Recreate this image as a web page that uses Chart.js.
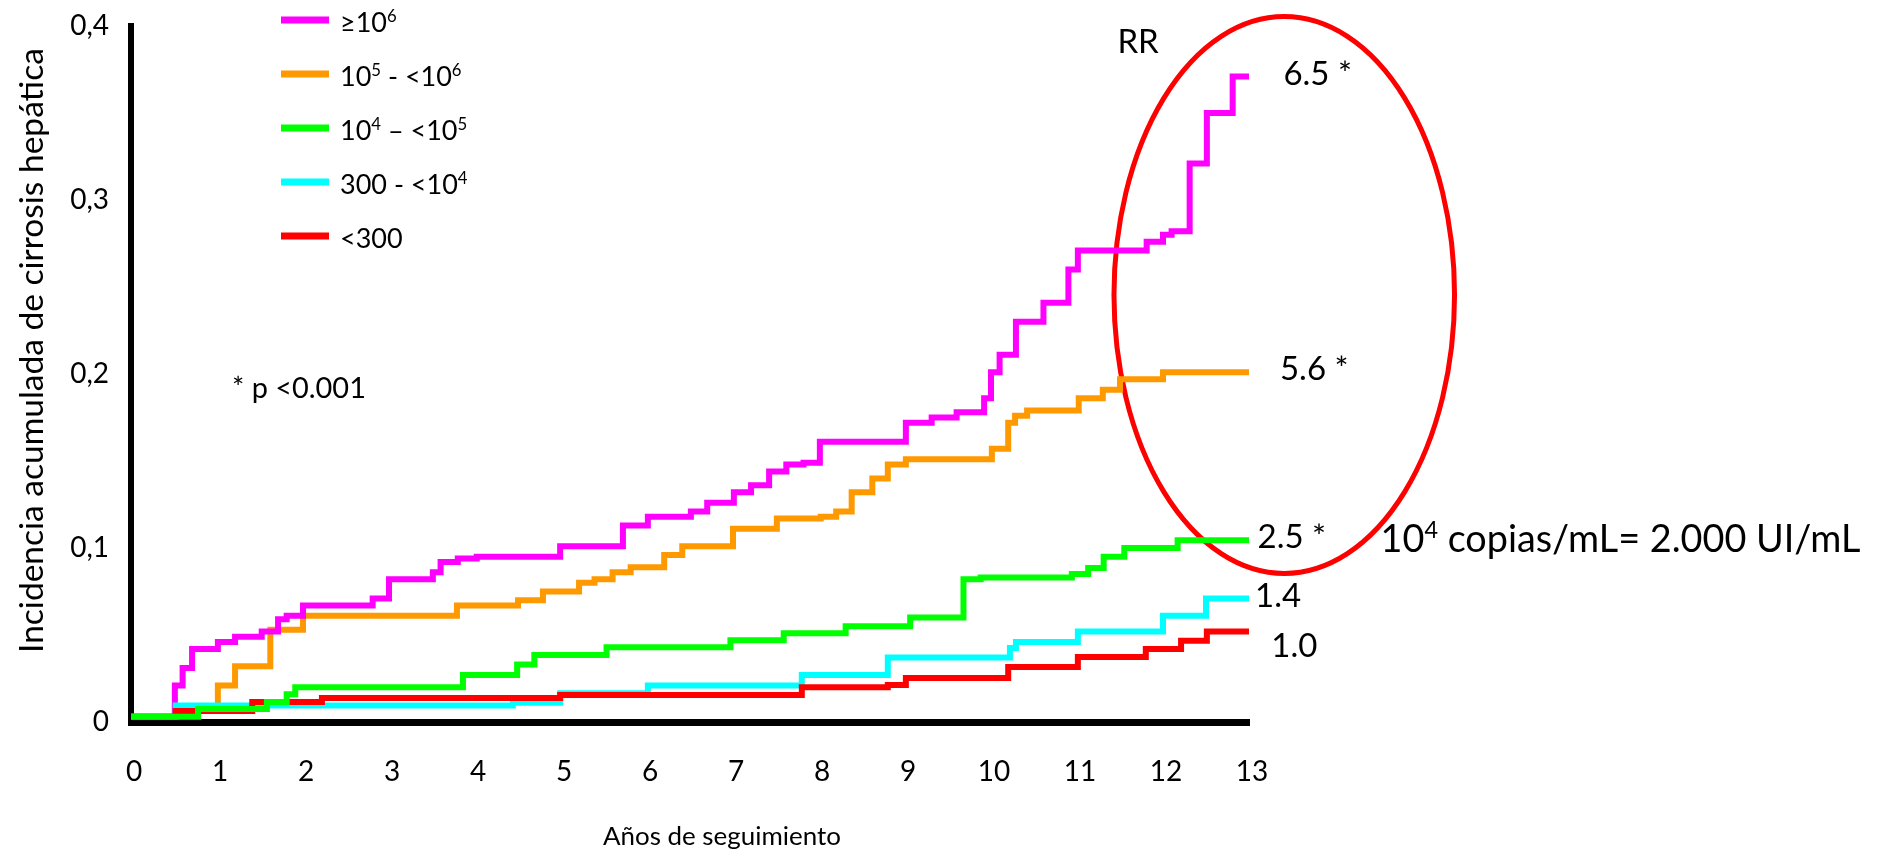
<!DOCTYPE html>
<html>
<head>
<meta charset="utf-8">
<script src="https://cdn.jsdelivr.net/npm/chart.js@4.4.1/dist/chart.umd.min.js"></script>
<style>
html,body{margin:0;padding:0;background:#ffffff;}
canvas{display:block;}
</style>
</head>
<body>
<canvas id="c" width="1895" height="850"></canvas>
<script>
// ---------------- DATA ----------------
const seriesLabels = ['≥10^6', '10^5 - <10^6', '10^4 – <10^5', '300 - <10^4', '<300'];
const rrValues = ['6.5 *', '5.6 *', '2.5 *', '1.4', '1.0'];

const xTickValues = [0,1,2,3,4,5,6,7,8,9,10,11,12,13];
const xTickLabels = ['0','1','2','3','4','5','6','7','8','9','10','11','12','13'];
const yTickValues = [0, 0.1, 0.2, 0.3, 0.4];
const yTickLabels = ['0', '0,1', '0,2', '0,3', '0,4'];

const xTitle = 'Años de seguimiento';
const yTitle = 'Incidencia acumulada de cirrosis hepática';
const pNote = '* p <0.001';
const rrTitle = 'RR';
const unitNote = '10^4 copias/mL= 2.000 UI/mL';

// >=10^6
const t1 = [0, 0.51, 0.60, 0.71, 1.01, 1.21, 1.52, 1.71, 1.81, 2.00, 2.81, 3.00, 3.51, 3.60, 3.80, 4.02, 4.99, 5.72, 6.01, 6.51, 6.70, 7.01, 7.21, 7.42, 7.62, 7.82, 8.01, 9.01, 9.31, 9.60, 9.92, 10.00, 10.10, 10.29, 10.61, 10.90, 11.01, 11.81, 12.00, 12.10, 12.31, 12.51, 12.81, 13.00];
const v1 = [0.003, 0.021, 0.031, 0.042, 0.046, 0.049, 0.052, 0.059, 0.061, 0.067, 0.071, 0.082, 0.086, 0.092, 0.094, 0.095, 0.101, 0.113, 0.118, 0.121, 0.126, 0.132, 0.136, 0.144, 0.148, 0.149, 0.161, 0.172, 0.175, 0.178, 0.186, 0.201, 0.211, 0.230, 0.241, 0.260, 0.271, 0.276, 0.280, 0.282, 0.321, 0.350, 0.371, 0.371];
// 10^5 - <10^6
const t2 = [0, 0.51, 1.01, 1.21, 1.62, 2.00, 3.79, 4.50, 4.79, 5.21, 5.39, 5.60, 5.81, 6.20, 6.41, 7.00, 7.51, 8.02, 8.20, 8.38, 8.62, 8.80, 9.01, 10.01, 10.20, 10.28, 10.42, 11.02, 11.30, 11.50, 12.00, 13.00];
const v2 = [0.003, 0.009, 0.021, 0.032, 0.053, 0.061, 0.067, 0.070, 0.075, 0.080, 0.082, 0.086, 0.089, 0.096, 0.101, 0.111, 0.117, 0.118, 0.121, 0.132, 0.140, 0.148, 0.151, 0.157, 0.172, 0.176, 0.179, 0.186, 0.191, 0.197, 0.201, 0.201];
// 10^4 - <10^5
const t3 = [0, 0.78, 1.58, 1.81, 1.91, 3.86, 4.49, 4.69, 5.53, 6.97, 7.59, 8.31, 9.06, 9.68, 9.88, 10.94, 11.13, 11.31, 11.55, 12.17, 13.00];
const v3 = [0.003, 0.0075, 0.0115, 0.016, 0.020, 0.027, 0.033, 0.0385, 0.043, 0.047, 0.051, 0.055, 0.060, 0.082, 0.083, 0.085, 0.0885, 0.095, 0.100, 0.1045, 0.1045];
// 300 - <10^4
const t4 = [0, 0.52, 4.44, 4.99, 6.01, 7.80, 8.80, 10.22, 10.29, 11.01, 12.00, 12.50, 13.00];
const v4 = [0.003, 0.0095, 0.011, 0.0165, 0.021, 0.027, 0.037, 0.0425, 0.046, 0.052, 0.061, 0.071, 0.071];
// <300
const t5 = [0, 0.52, 1.41, 2.22, 4.99, 7.80, 8.80, 9.01, 10.20, 11.01, 11.80, 12.21, 12.51, 13.00];
const v5 = [0.003, 0.0063, 0.0115, 0.0138, 0.0155, 0.020, 0.0213, 0.0253, 0.0316, 0.0374, 0.042, 0.0467, 0.052, 0.052];

// ---------------- STYLE / LAYOUT ----------------
const FONT = 'Lato, "Open Sans", "DejaVu Sans", sans-serif';
const colors = ['#ff00ff', '#ff9900', '#00ff00', '#00ffff', '#ff0000'];
const drawOrder = [3, 4, 0, 2, 1]; // lower = on top

const zip = (ts, vs) => ts.map((t, i) => ({x: t, y: vs[i]}));
const seriesT = [t1, t2, t3, t4, t5];
const seriesV = [v1, v2, v3, v4, v5];

const annot = {
  legend: {x0: 281, x1: 329, textX: 340, y0: 20, dy: 54, size: 27, lineWidth: 7},
  rrTitle: {t: 11.47, v: 0.3845, size: 33},
  rr: [
    {t: 13.40, v: 0.366}, {t: 13.36, v: 0.1966}, {t: 13.10, v: 0.100},
    {t: 13.07, v: 0.0661}, {t: 13.26, v: 0.0374}
  ],
  rrSize: 33,
  unit: {t: 14.53, v: 0.0977, width: 480},
  pNote: {t: 1.174, v: 0.186, width: 134},
  ellipse: {t: 13.41, v: 0.2454, rt: 1.98, rv: 0.16, width: 5, color: '#ff0000'},
  xTitle: {cx: 722, y: 845, width: 238},
  yTitle: {x: 43, y: 653, width: 605}
};

function richParts(str) {
  const parts = []; const re = /\^(\d+)/g; let last = 0, m;
  while ((m = re.exec(str))) {
    if (m.index > last) parts.push({t: str.slice(last, m.index), sup: false});
    parts.push({t: m[1], sup: true});
    last = re.lastIndex;
  }
  if (last < str.length) parts.push({t: str.slice(last), sup: false});
  return parts;
}
function richWidth(ctx, str, size) {
  let w = 0;
  richParts(str).forEach(p => { ctx.font = (p.sup ? size * 0.62 : size) + 'px ' + FONT; w += ctx.measureText(p.t).width; });
  return w;
}
function drawRich(ctx, str, x, y, size) {
  let cx = x;
  richParts(str).forEach(p => {
    const s = p.sup ? size * 0.62 : size;
    ctx.font = s + 'px ' + FONT;
    ctx.fillText(p.t, cx, p.sup ? y - size * 0.36 : y);
    cx += ctx.measureText(p.t).width;
  });
}
function fitSize(ctx, str, width) {
  return 100 * width / richWidth(ctx, str, 100);
}

const overlay = {
  id: 'overlay',
  beforeDatasetsDraw(chart) {
    const ctx = chart.ctx, xs = chart.scales.x, ys = chart.scales.y, e = annot.ellipse;
    const cx = xs.getPixelForValue(e.t), cy = ys.getPixelForValue(e.v);
    const rx = xs.getPixelForValue(e.t + e.rt) - cx, ry = cy - ys.getPixelForValue(e.v + e.rv);
    ctx.save();
    ctx.strokeStyle = e.color; ctx.lineWidth = e.width;
    ctx.beginPath(); ctx.ellipse(cx, cy, rx, ry, 0, 0, Math.PI * 2); ctx.stroke();
    ctx.restore();
  },
  afterDraw(chart) {
    const ctx = chart.ctx, xs = chart.scales.x, ys = chart.scales.y;
    ctx.save();
    ctx.fillStyle = '#000'; ctx.textAlign = 'left'; ctx.textBaseline = 'alphabetic';
    // legend
    const L = annot.legend;
    chart.data.datasets.forEach((ds, i) => {
      const y = L.y0 + i * L.dy;
      ctx.strokeStyle = ds.borderColor; ctx.lineWidth = L.lineWidth; ctx.lineCap = 'butt';
      ctx.beginPath(); ctx.moveTo(L.x0, y); ctx.lineTo(L.x1, y); ctx.stroke();
      ctx.fillStyle = '#000';
      drawRich(ctx, seriesLabels[i], L.textX, y + 12, L.size);
    });
    // RR title and values
    drawRich(ctx, rrTitle, xs.getPixelForValue(annot.rrTitle.t), ys.getPixelForValue(annot.rrTitle.v), annot.rrTitle.size);
    rrValues.forEach((s, i) => {
      drawRich(ctx, s, xs.getPixelForValue(annot.rr[i].t), ys.getPixelForValue(annot.rr[i].v), annot.rrSize);
    });
    // unit note
    drawRich(ctx, unitNote, xs.getPixelForValue(annot.unit.t), ys.getPixelForValue(annot.unit.v), fitSize(ctx, unitNote, annot.unit.width));
    // p note
    drawRich(ctx, pNote, xs.getPixelForValue(annot.pNote.t), ys.getPixelForValue(annot.pNote.v), fitSize(ctx, pNote, annot.pNote.width));
    // axis titles
    drawRich(ctx, xTitle, annot.xTitle.cx - annot.xTitle.width / 2, annot.xTitle.y, fitSize(ctx, xTitle, annot.xTitle.width));
    ctx.translate(annot.yTitle.x, annot.yTitle.y);
    ctx.rotate(-Math.PI / 2);
    drawRich(ctx, yTitle, 0, 0, fitSize(ctx, yTitle, annot.yTitle.width));
    ctx.restore();
  }
};

const datasets = seriesLabels.map((lab, i) => ({
  label: lab,
  data: zip(seriesT[i], seriesV[i]),
  borderColor: colors[i],
  backgroundColor: colors[i],
  borderWidth: 6,
  stepped: 'before',
  pointRadius: 0,
  pointHoverRadius: 0,
  fill: false,
  order: drawOrder[i],
  borderJoinStyle: 'miter',
  borderCapStyle: 'butt'
}));

new Chart(document.getElementById('c').getContext('2d'), {
  type: 'line',
  data: {datasets},
  options: {
    responsive: false,
    animation: false,
    events: [],
    layout: {padding: {top: 26, right: 646, bottom: 0, left: 0}},
    plugins: {legend: {display: false}, tooltip: {enabled: false}},
    scales: {
      x: {
        type: 'linear', min: 0, max: 13,
        afterFit: s => { s.height = 128; },
        afterBuildTicks: s => { s.ticks = xTickValues.map(v => ({value: v})); },
        ticks: {
          autoSkip: false, maxRotation: 0, padding: 33, labelOffset: 3, color: '#000',
          font: {family: FONT, size: 28},
          callback: (v, i) => xTickLabels[i]
        },
        grid: {display: false, drawTicks: false},
        border: {display: true, color: '#000', width: 7}
      },
      y: {
        type: 'linear', min: 0, max: 0.4,
        afterFit: s => { s.width = 131; s.paddingTop = 0; s.paddingBottom = 0; },
        afterBuildTicks: s => { s.ticks = yTickValues.map(v => ({value: v})); },
        ticks: {
          autoSkip: false, padding: 22, color: '#000',
          font: {family: FONT, size: 28},
          callback: (v, i) => yTickLabels[i]
        },
        grid: {display: false, drawTicks: false},
        border: {display: true, color: '#000', width: 6}
      }
    }
  },
  plugins: [overlay]
});
</script>
</body>
</html>
